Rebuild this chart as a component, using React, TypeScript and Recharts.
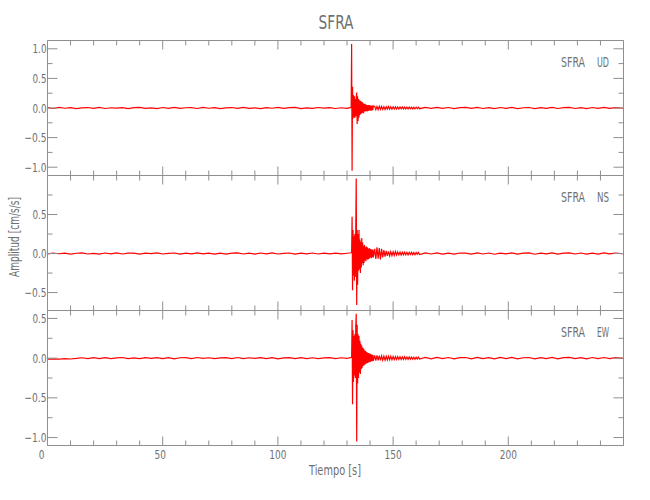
import React from "react";
import { LineChart, Line, XAxis, YAxis } from "recharts";

// ---- sample times (s) ----
const timePre = [0, 2.5, 5, 7.5, 10, 12.5, 15, 17.5, 20, 22.5, 25, 27.5, 30, 32.5, 35, 37.5, 40, 42.5, 45, 47.5, 50, 52.5, 55, 57.5, 60, 62.5, 65, 67.5, 70, 72.5, 75, 77.5, 80, 82.5, 85, 87.5, 90, 92.5, 95, 97.5, 100, 102.5, 105, 107.5, 110, 112.5, 115, 117.5, 120, 122.5, 125, 127.5, 130];
const timeEvent = [131.8, 132, 132.2, 132.4, 132.6, 132.8, 133, 133.2, 133.4, 133.6, 133.8, 134, 134.2, 134.4, 134.6, 134.8, 135, 135.2, 135.4, 135.6, 135.8, 136, 136.2, 136.4, 136.6, 136.8, 137, 137.2, 137.4, 137.6, 137.8, 138, 138.2, 138.4, 138.6, 138.8, 139, 139.2, 139.4, 139.6, 139.8, 140, 140.2, 140.4, 140.6, 140.8, 141, 141.2, 141.4];
const timeMid = [142, 142.5, 143, 143.5, 144, 144.5, 145, 145.5, 146, 146.5, 147, 147.5, 148, 148.5, 149, 149.5, 150, 150.5, 151, 151.5, 152, 152.5, 153, 153.5, 154, 154.5, 155, 155.5, 156, 156.5, 157, 157.5, 158, 158.5, 159, 159.5, 160, 160.5, 161, 161.5];
const timeLate = [164, 166.5, 169, 171.5, 174, 176.5, 179, 181.5, 184, 186.5, 189, 191.5, 194, 196.5, 199, 201.5, 204, 206.5, 209, 211.5, 214, 216.5, 219, 221.5, 224, 226.5, 229, 231.5, 234, 236.5, 239, 241.5, 244, 246.5, 250];

// ---- UD component (cm/s/s) ----
const udPre = [0.006, -0.008, 0.009, -0.004, 0.007, -0.01, 0.003, 0.008, -0.006, 0.01, -0.008, 0.004, -0.003, 0.007, -0.009, 0.005, 0.01, -0.006, 0.002, -0.01, 0.008, -0.005, 0.009, -0.007, 0.004, 0.006, -0.008, 0.011, -0.004, 0.006, -0.009, 0.003, 0.008, -0.006, 0.01, -0.006, 0.002, -0.009, 0.007, -0.004, 0.01, -0.007, 0.005, 0.009, -0.01, 0.003, -0.006, 0.008, -0.003, 0.006, -0.008, 0.004, -0.005];
const udEvent = [0.01, 1.08, -1.06, 0.36, -0.18, 0.22, -0.15, 0.2, -0.17, 0.15, -0.14, 0.18, 0.26, -0.27, 0.2, -0.22, 0.15, -0.16, 0.13, -0.12, 0.12, -0.1, 0.11, -0.09, 0.1, -0.08, 0.08, -0.09, 0.07, -0.06, 0.07, -0.06, 0.06, -0.05, 0.05, -0.06, 0.045, -0.05, 0.05, -0.04, 0.045, -0.04, 0.04, -0.045, 0.035, -0.04, 0.04, -0.035, 0.035];
const udMid = [0.028, -0.03, 0.025, -0.027, 0.03, -0.022, 0.026, -0.024, 0.022, -0.025, 0.022, -0.018, 0.024, -0.02, 0.018, -0.021, 0.02, -0.016, 0.02, -0.018, 0.016, -0.019, 0.017, -0.014, 0.018, -0.015, 0.014, -0.016, 0.015, -0.014, 0.016, -0.012, 0.014, -0.015, 0.012, -0.014, 0.013, -0.011, 0.014, -0.012];
const udLate = [0.009, -0.007, 0.01, -0.006, 0.008, -0.01, 0.005, 0.009, -0.007, 0.01, -0.008, 0.006, -0.009, 0.008, -0.005, 0.01, -0.009, 0.004, 0.008, -0.01, 0.007, -0.006, 0.009, -0.008, 0.006, 0.01, -0.008, 0.005, -0.009, 0.008, -0.006, 0.01, -0.007, 0.005, -0.004];

// ---- NS component ----
const nsPre = [-0.005, 0.007, -0.003, 0.006, -0.008, 0.004, 0.008, -0.006, 0.003, -0.007, 0.007, -0.004, 0.008, -0.006, 0.004, 0.006, -0.008, 0.005, -0.002, 0.008, -0.006, 0.003, 0.007, -0.008, 0.005, -0.004, 0.008, -0.005, 0.006, -0.007, 0.004, -0.008, 0.006, 0.009, -0.006, 0.004, -0.007, 0.007, -0.005, 0.008, -0.006, 0.003, 0.007, -0.008, 0.005, -0.004, 0.007, -0.006, 0.005, -0.005, 0.006, -0.005, 0.004];
const nsEvent = [0.01, 0.02, 0.47, -0.47, 0.3, -0.28, 0.22, -0.35, 0.25, -0.3, 0.35, 0.96, -0.66, 0.3, -0.4, 0.25, -0.22, 0.3, -0.2, 0.18, -0.25, 0.15, -0.18, 0.2, -0.12, 0.14, -0.15, 0.1, -0.12, 0.11, -0.09, 0.08, -0.1, 0.09, -0.07, 0.08, -0.08, 0.06, -0.07, 0.07, -0.06, 0.06, -0.05, 0.055, -0.06, 0.05, -0.045, 0.05, -0.05];
const nsMid = [0.06, -0.07, 0.08, -0.065, 0.07, -0.075, 0.06, -0.05, 0.045, -0.04, 0.035, -0.03, 0.028, -0.03, 0.024, -0.026, 0.022, -0.024, 0.025, -0.019, 0.021, -0.017, 0.019, -0.021, 0.017, -0.015, 0.018, -0.016, 0.015, -0.018, 0.016, -0.013, 0.015, -0.014, 0.012, -0.015, 0.013, -0.011, 0.013, -0.012];
const nsLate = [0.008, -0.006, 0.009, -0.007, 0.005, -0.008, 0.007, 0.004, -0.008, 0.009, -0.006, 0.007, -0.009, 0.006, -0.005, 0.008, -0.007, 0.006, 0.008, -0.009, 0.006, -0.005, 0.008, -0.007, 0.005, 0.009, -0.006, 0.007, -0.008, 0.006, -0.007, 0.008, -0.005, 0.006, -0.003];

// ---- EW component ----
const ewPre = [-0.012, -0.009, -0.013, -0.006, -0.011, -0.004, 0.005, -0.006, 0.007, -0.005, 0.006, -0.007, 0.004, 0.008, -0.006, 0.003, -0.007, 0.006, -0.004, 0.007, -0.005, 0.007, -0.008, 0.005, 0.006, -0.006, 0.008, -0.004, 0.005, -0.007, 0.004, 0.007, -0.006, 0.008, -0.007, 0.005, -0.003, 0.007, -0.005, 0.006, -0.008, 0.004, 0.006, -0.006, 0.007, -0.005, 0.005, -0.007, 0.003, 0.006, -0.006, 0.005, -0.004];
const ewEvent = [0.01, 0.015, 0.48, -0.58, 0.35, -0.3, 0.28, -0.22, 0.3, -0.25, 0.4, 0.56, -1.05, 0.42, -0.32, 0.3, -0.25, 0.28, -0.18, 0.22, -0.2, 0.18, -0.14, 0.16, -0.12, 0.13, -0.1, 0.12, -0.09, 0.1, -0.08, 0.09, -0.07, 0.08, -0.065, 0.07, -0.06, 0.065, -0.05, 0.06, -0.05, 0.055, -0.045, 0.05, -0.04, 0.045, -0.04, 0.04, -0.035];
const ewMid = [0.036, -0.032, 0.034, -0.029, 0.031, -0.027, 0.029, -0.025, 0.026, -0.024, 0.024, -0.022, 0.025, -0.02, 0.022, -0.019, 0.021, -0.019, 0.018, -0.017, 0.019, -0.017, 0.016, -0.018, 0.015, -0.014, 0.017, -0.015, 0.014, -0.015, 0.015, -0.013, 0.014, -0.014, 0.012, -0.013, 0.013, -0.011, 0.013, -0.012];
const ewLate = [0.009, -0.008, 0.01, -0.007, 0.008, -0.009, 0.006, 0.008, -0.009, 0.01, -0.007, 0.007, -0.008, 0.009, -0.006, 0.009, -0.008, 0.005, 0.008, -0.009, 0.007, -0.006, 0.009, -0.008, 0.006, 0.01, -0.007, 0.007, -0.009, 0.008, -0.006, 0.008, -0.007, 0.006, -0.004];

// ---- ticks ----
const xTicks = [0, 10, 20, 30, 40, 50, 60, 70, 80, 90, 100, 110, 120, 130, 140, 150, 160, 170, 180, 190, 200, 210, 220, 230, 240, 250];
const xMajor = [0, 50, 100, 150, 200, 250];
const xLabeled = [0, 50, 100, 150, 200];
const udTicks = [-1, -0.75, -0.5, -0.25, 0, 0.25, 0.5, 0.75, 1];
const nsTicks = [-0.5, -0.25, 0, 0.25, 0.5, 0.75];
const ewTicks = [-1, -0.75, -0.5, -0.25, 0, 0.25, 0.5];
const yMajor = [-1, -0.5, 0, 0.5, 1];

const times = [...timePre, ...timeEvent, ...timeMid, ...timeLate];
const ud = [...udPre, ...udEvent, ...udMid, ...udLate];
const ns = [...nsPre, ...nsEvent, ...nsMid, ...nsLate];
const ew = [...ewPre, ...ewEvent, ...ewMid, ...ewLate];
const rows = times.map((t, i) => ({ t, ud: ud[i], ns: ns[i], ew: ew[i] }));

const AXIS = "#8f8f8f";
const TEXT = "#707070";
const FONT = "'Liberation Sans Narrow', 'DejaVu Sans Condensed', 'Liberation Sans', sans-serif";
const fmt = (v: number) => (v < 0 ? "\u2212" : "") + Math.abs(v).toFixed(1);
const charW = (s: string) =>
  s.split("").reduce((a, c) => a + (c === "." ? 2.6 : c === "\u2212" ? 8 : 5.7), 0);

const PLOT_L = 47.5;
const PLOT_R = 623.5;
const W = 650;
const H = 500;
const PANEL_H = 135;

const leftTick = (p: any) => {
  const v = p.payload.value;
  const major = yMajor.includes(v);
  const s = fmt(v);
  return (
    <g>
      <line x1={p.x} x2={p.x + (major ? 10 : 5)} y1={p.y} y2={p.y} stroke={AXIS} />
      {major && (
        <text
          x={p.x - 1}
          y={p.y}
          dy={4.5}
          textAnchor="end"
          fill={TEXT}
          fontSize={12.5}
          fontFamily={FONT}
          textLength={charW(s)}
          lengthAdjust="spacingAndGlyphs"
        >
          {s}
        </text>
      )}
    </g>
  );
};
const rightTick = (p: any) => {
  const v = p.payload.value;
  const major = yMajor.includes(v);
  return <line x1={p.x} x2={p.x - (major ? 10 : 5)} y1={p.y} y2={p.y} stroke={AXIS} />;
};
const makeBottomTick = (labels: boolean) => (p: any) => {
  const v = p.payload.value;
  const major = xMajor.includes(v);
  const s = String(v);
  const shift = v === 0 ? -6 : v === 50 ? -2.5 : 0;
  return (
    <g>
      <line x1={p.x} x2={p.x} y1={p.y} y2={p.y - (major ? 9 : 5)} stroke={AXIS} />
      {labels && xLabeled.includes(v) && (
        <text
          x={p.x + shift}
          y={p.y + 13}
          textAnchor="middle"
          fill={TEXT}
          fontSize={12.5}
          fontFamily={FONT}
          textLength={charW(s)}
          lengthAdjust="spacingAndGlyphs"
        >
          {s}
        </text>
      )}
    </g>
  );
};
const topTick = (p: any) => {
  const v = p.payload.value;
  const major = xMajor.includes(v);
  return <line x1={p.x} x2={p.x} y1={p.y} y2={p.y + (major ? 9 : 5)} stroke={AXIS} />;
};

type PanelProps = {
  dataKey: string;
  top: number;
  domain: [number, number];
  ticks: number[];
  labels: boolean;
};

function Panel({ dataKey, top, domain, ticks, labels }: PanelProps) {
  return (
    <div style={{ position: "absolute", left: 0, top: 0 }}>
      <LineChart
        width={W}
        height={H}
        data={rows}
        margin={{ top: top - 1, bottom: H - top - PANEL_H - 1, left: PLOT_L - 1, right: W - PLOT_R - 1 }}
      >
        <XAxis
          dataKey="t"
          type="number"
          domain={[0, 250]}
          ticks={xTicks}
          interval={0}
          height={1}
          tickSize={0}
          tickMargin={0}
          tickLine={false}
          axisLine={{ stroke: AXIS }}
          tick={makeBottomTick(labels)}
          allowDataOverflow
        />
        <XAxis
          xAxisId="top"
          orientation="top"
          dataKey="t"
          type="number"
          domain={[0, 250]}
          ticks={xTicks}
          interval={0}
          height={1}
          tickSize={0}
          tickMargin={0}
          tickLine={false}
          axisLine={{ stroke: AXIS }}
          tick={topTick}
          allowDataOverflow
        />
        <YAxis
          type="number"
          domain={domain}
          ticks={ticks}
          interval={0}
          width={1}
          tickSize={0}
          tickMargin={0}
          tickLine={false}
          axisLine={{ stroke: AXIS }}
          tick={leftTick}
          allowDataOverflow
        />
        <YAxis
          yAxisId="r"
          orientation="right"
          type="number"
          domain={domain}
          ticks={ticks}
          interval={0}
          width={1}
          tickSize={0}
          tickMargin={0}
          tickLine={false}
          axisLine={{ stroke: AXIS }}
          tick={rightTick}
          allowDataOverflow
        />
        <Line
          dataKey={dataKey}
          type="linear"
          stroke="#ff0000"
          strokeWidth={1.2}
          dot={false}
          isAnimationActive={false}
        />
      </LineChart>
    </div>
  );
}

const panelLabels = [
  { name: "UD", top: 40.5 },
  { name: "NS", top: 175.5 },
  { name: "EW", top: 310.5 },
];

export default function App() {
  return (
    <div style={{ position: "absolute", left: 0, top: 0, width: W, height: H, background: "#fff", overflow: "hidden" }}>
      <Panel dataKey="ud" top={40.5} domain={[-1.14, 1.14]} ticks={udTicks} labels={false} />
      <Panel dataKey="ns" top={175.5} domain={[-0.73, 1.0]} ticks={nsTicks} labels={false} />
      <Panel dataKey="ew" top={310.5} domain={[-1.1, 0.6]} ticks={ewTicks} labels={true} />
      <svg width={W} height={H} style={{ position: "absolute", left: 0, top: 0, pointerEvents: "none" }}>
        <text x={336} y={29} textAnchor="middle" fill={TEXT} fontSize={19} fontFamily={FONT} textLength={35} lengthAdjust="spacingAndGlyphs">
          SFRA
        </text>
        {panelLabels.map((l) => (
          <g key={l.name}>
            <text x={561} y={l.top + 26} fill={TEXT} fontSize={14} fontFamily={FONT} textLength={24} lengthAdjust="spacingAndGlyphs">
              SFRA
            </text>
            <text x={609} y={l.top + 26} textAnchor="end" fill={TEXT} fontSize={14} fontFamily={FONT} textLength={12} lengthAdjust="spacingAndGlyphs">
              {l.name}
            </text>
          </g>
        ))}
        <text x={335} y={474.5} textAnchor="middle" fill={TEXT} fontSize={14} fontFamily={FONT} textLength={52} lengthAdjust="spacingAndGlyphs">
          Tiempo [s]
        </text>
        <text
          x={18.5}
          y={237}
          textAnchor="middle"
          fill={TEXT}
          fontSize={14}
          fontFamily={FONT}
          textLength={80}
          lengthAdjust="spacingAndGlyphs"
          transform="rotate(-90 18.5 237)"
        >
          Amplitud [cm/s/s]
        </text>
      </svg>
    </div>
  );
}
